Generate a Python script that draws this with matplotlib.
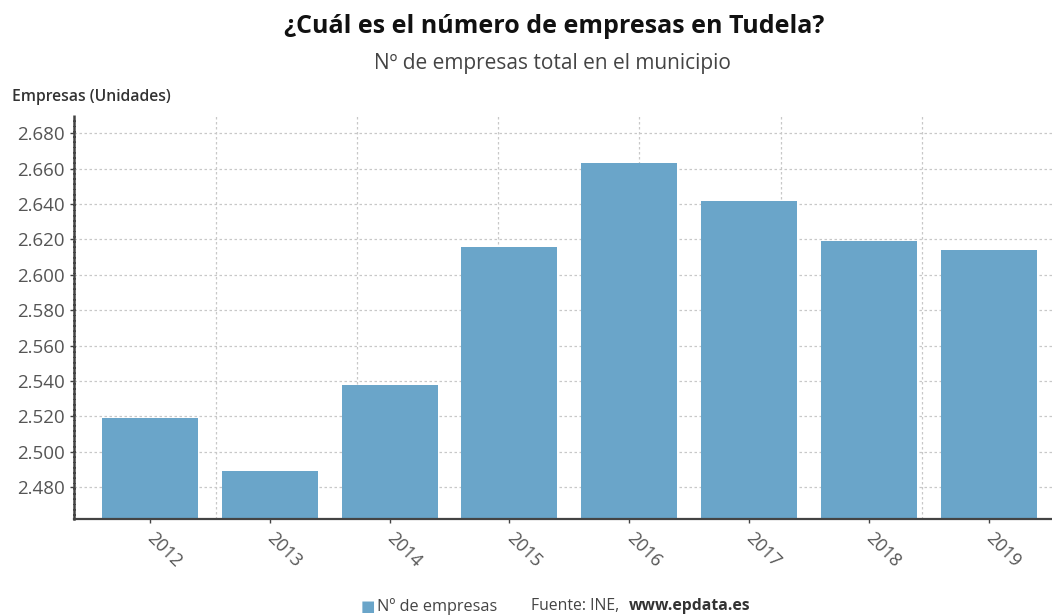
import matplotlib
matplotlib.use("Agg")
import matplotlib.pyplot as plt
import numpy as np

plt.rcParams['font.family'] = ['Open Sans', 'DejaVu Sans']

years = ['2012', '2013', '2014', '2015', '2016', '2017', '2018', '2019']
empresas = [2519, 2489, 2538, 2616, 2663, 2642, 2619, 2614]
yticks = [2480, 2500, 2520, 2540, 2560, 2580, 2600, 2620, 2640, 2660, 2680]

bar_color = '#6aa5c9'

fig = plt.figure(figsize=(10.52, 6.16), dpi=100)
ax = fig.add_axes([0.0706, 0.1575, 0.9294, 0.6558])

x = np.arange(len(years))
ax.bar(x, empresas, width=0.8, color=bar_color, zorder=3)

ax.set_ylim(2462.1, 2690.3)
ax.set_xlim(-0.632, 7.529)

ax.set_yticks(yticks)
ax.set_yticklabels([f"{v/1000:.3f}" for v in yticks])
ax.set_xticks(x)
ax.set_xticklabels(years, rotation=-45, ha='left', va='center', rotation_mode='anchor')

ax.tick_params(axis='y', length=3, width=1, color='#444', labelsize=13.5, labelcolor='#555', pad=4)
ax.tick_params(axis='x', length=3, width=1, color='#444', labelsize=13, labelcolor='#555', pad=9)

# grid
ax.grid(axis='y', linestyle=(0, (2, 2)), color='#c8c8c8', linewidth=0.9, zorder=0)
for k in range(1, 7):
    ax.plot([k * 0.1445] * 2, [0, 1], transform=ax.transAxes, linestyle=(0, (2, 2)),
            color='#c8c8c8', linewidth=0.9, zorder=0)

for s in ['top', 'right']:
    ax.spines[s].set_visible(False)
ax.spines['left'].set_color('#444')
ax.spines['left'].set_linewidth(1.8)
ax.spines['left'].set_linestyle((0, (1.5, 0.6)))
ax.spines['bottom'].set_color('#444')
ax.spines['bottom'].set_linewidth(1.6)
ax.spines['left'].set_zorder(4)
ax.spines['bottom'].set_zorder(4)

fig.text(0.527, 0.957, '¿Cuál es el número de empresas en Tudela?', ha='center', va='center',
         fontsize=18, fontweight='bold', color='#111')
fig.text(0.525, 0.897, 'Nº de empresas total en el municipio', ha='center', va='center',
         fontsize=15, color='#444')
fig.text(0.011, 0.843, 'Empresas (Unidades)', ha='left', va='center',
         fontsize=11.3, fontweight='semibold', color='#333')

# legend + source
fig.text(0.3425, 0.016, '■', ha='left', va='center', fontsize=11, color=bar_color,
         family=['DejaVu Sans'])
fig.text(0.358, 0.016, 'Nº de empresas', ha='left', va='center', fontsize=11.7, color='#444')
fig.text(0.505, 0.016, 'Fuente: INE, ', ha='left', va='center', fontsize=11.3, color='#444')
fig.text(0.598, 0.016, 'www.epdata.es', ha='left', va='center', fontsize=11.3,
         fontweight='bold', color='#333')

fig.savefig('out.png', dpi=100)
